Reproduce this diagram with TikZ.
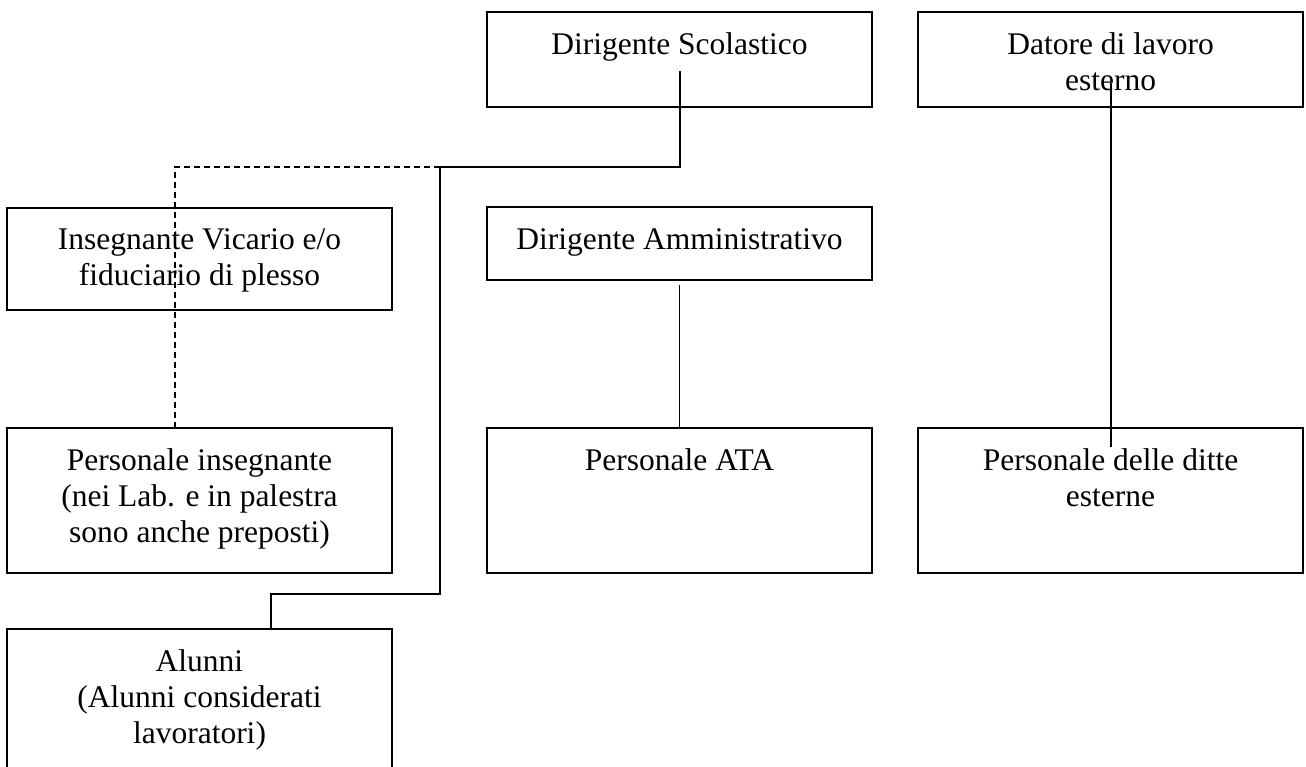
\documentclass[tikz,border=0pt]{standalone}
\usepackage{fontspec}
\setmainfont{Liberation Serif}
\begin{document}
\begin{tikzpicture}[x=1pt,y=-1pt,
  box/.style={draw, line width=1.5pt, inner sep=0pt, outer sep=0pt, minimum width=385pt, anchor=north west},
  lbl/.style={anchor=north, align=center, inner sep=0pt, font=\fontsize{31.5}{36}\selectfont, execute at begin node={\rule{0pt}{22pt}}},
  conn/.style={line width=1.5pt},
  dconn/.style={line width=1.5pt, dash pattern=on 6pt off 4pt}]
\useasboundingbox (0,0) rectangle (1306,767);
\clip (0,0) rectangle (1306,767);
% boxes
\node[box, minimum height=95pt] (ds) at (487,12) {};
\node[box, minimum height=95pt] (dl) at (918,12) {};
\node[box, minimum height=102pt] (iv) at (7,208) {};
\node[box, minimum height=73pt] (da) at (487,207) {};
\node[box, minimum height=145pt] (pi) at (7,428) {};
\node[box, minimum height=145pt] (ata) at (487,428) {};
\node[box, minimum height=145pt] (pd) at (918,428) {};
\node[box, minimum height=170pt] (al) at (7,629) {};
% texts
\node[lbl] (dsT) at ([yshift=-20pt]ds.north) {Dirigente Scolastico};
\node[lbl] (dlT) at ([yshift=-20pt]dl.north) {Datore di lavoro\\esterno};
\node[lbl] (ivT) at ([yshift=-20pt]iv.north) {Insegnante Vicario e/o\\fiduciario di plesso};
\node[lbl] (daT) at ([yshift=-20pt]da.north) {Dirigente Amministrativo};
\node[lbl] (piT) at ([yshift=-20pt]pi.north) {Personale insegnante\\(nei Lab. e in palestra\\sono anche preposti)};
\node[lbl] (ataT) at ([yshift=-20pt]ata.north) {Personale ATA};
\node[lbl] (pdT) at ([yshift=-20pt]pd.north) {Personale delle ditte\\esterne};
\node[lbl] (alT) at ([yshift=-20pt]al.north) {Alunni\\(Alunni considerati\\lavoratori)};
% connectors
\coordinate (dsin) at (680,71);
\coordinate (j1) at (680,167);
\coordinate (j2) at (440,167);
\coordinate (j3) at (175,167);
\coordinate (j4) at (440,594);
\coordinate (j5) at (271,594);
\draw[conn] (dsin) -- (j1) -- (j2) -- (j4) -- (j5) -- (j5 |- al.north);
\draw[dconn] (j2) -- (j3) -- (j3 |- pi.north);
\draw[conn] ([yshift=-5pt]da.south) -- (ata.north);
\coordinate (dlin) at (1111,83);
\coordinate (pdin) at (1111,447);
\draw[conn] (dlin) -- (pdin);
\end{tikzpicture}
\end{document}
